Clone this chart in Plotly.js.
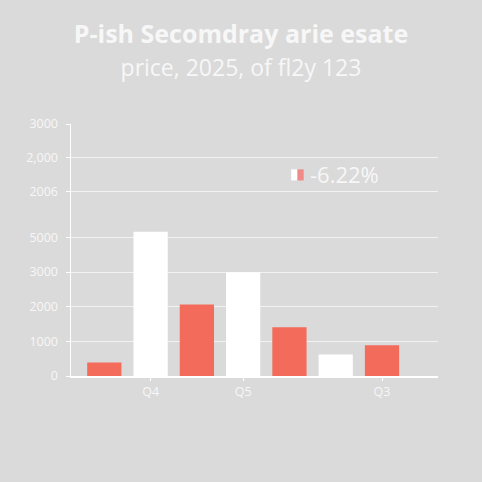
<!DOCTYPE html>
<html>
<head>
<meta charset="utf-8">
<script src="https://cdn.plot.ly/plotly-3.0.1.min.js"></script>
<style>
  html, body { margin: 0; padding: 0; background: #dadada; }
  #myDiv { width: 482px; height: 482px; }
</style>
</head>
<body>
<div id="myDiv"></div>
<script>
// slots along the x axis, and which slots carry a label
var slots = ['s1', 's2', 's3', 's4', 's5', 's6', 's7'];
var labelSlots = ['s2', 's4', 's7'];
var labelText = ['Q4', 'Q5', 'Q3'];

// red series and white series
var redSlots = ['s1', 's3', 's5', 's7'];
var redValues = [390, 2060, 1410, 890];
var whiteSlots = ['s2', 's4', 's6'];
var whiteValues = [4165, 2995, 620];

// y tick positions and the (odd) labels printed on them
var yTickVals = [0, 1000, 2000, 3000, 4000, 5330, 6290, 7270];
var yTickText = ['0', '1000', '2000', '3000', '5000', '2006', '2,000', '3000'];

var legendText = '-6.22%';

function redTrace() {
  return {
    x: redSlots,
    y: redValues,
    type: 'bar',
    width: 0.74,
    marker: {color: '#f36b5a'},
    hoverinfo: 'y'
  };
}

function whiteTrace() {
  return {
    x: whiteSlots,
    y: whiteValues,
    type: 'bar',
    width: 0.74,
    marker: {color: '#ffffff'},
    hoverinfo: 'y'
  };
}

var data = [redTrace(), whiteTrace()];

var txt = '#f7f7f7';
var fam = '"Open Sans", Lato, sans-serif';

var layout = {
  width: 482,
  height: 482,
  paper_bgcolor: '#dadada',
  plot_bgcolor: '#dadada',
  showlegend: false,
  barmode: 'overlay',
  margin: {l: 71, r: 44, t: 124, b: 106},
  font: {family: fam, color: txt},
  title: {
    text: '<b>P-ish Secomdray arie esate</b><br><span style="font-size:23px">price, 2025, of fl2y 123</span>',
    font: {size: 25, color: txt, family: fam},
    x: 0.5,
    xanchor: 'center',
    y: 0.91,
    yanchor: 'top'
  },
  xaxis: {
    type: 'category',
    categoryorder: 'array',
    categoryarray: slots,
    range: [-0.72, 7.21],
    tickvals: labelSlots,
    ticktext: labelText,
    ticks: 'outside',
    ticklen: 3,
    tickcolor: '#ffffff',
    tickfont: {size: 12.5, color: txt},
    showgrid: false,
    showline: true,
    linecolor: '#ffffff',
    linewidth: 1.5,
    zeroline: false,
    fixedrange: true
  },
  yaxis: {
    range: [0, 7270],
    tickmode: 'array',
    tickvals: yTickVals,
    ticktext: yTickText,
    ticks: 'outside',
    ticklen: 4,
    tickcolor: '#ffffff',
    tickfont: {size: 12.5, color: txt},
    ticklabelstandoff: 5,
    showgrid: true,
    gridcolor: '#f2f2f2',
    gridwidth: 1,
    showline: true,
    linecolor: '#ffffff',
    linewidth: 1.5,
    zeroline: false,
    fixedrange: true
  },
  shapes: [
    {type: 'rect', xref: 'paper', yref: 'paper', x0: 0.6, x1: 0.617, y0: 0.776, y1: 0.82,
     fillcolor: '#ffffff', line: {width: 0}},
    {type: 'rect', xref: 'paper', yref: 'paper', x0: 0.617, x1: 0.634, y0: 0.776, y1: 0.82,
     fillcolor: '#f08a86', line: {width: 0}}
  ],
  annotations: [
    {text: legendText, xref: 'paper', yref: 'paper', x: 0.645, y: 0.8,
     xanchor: 'left', yanchor: 'middle', showarrow: false,
     font: {size: 22, color: txt, family: fam}}
  ]
};

Plotly.newPlot('myDiv', data, layout, {displayModeBar: false, staticPlot: true});
</script>
</body>
</html>
